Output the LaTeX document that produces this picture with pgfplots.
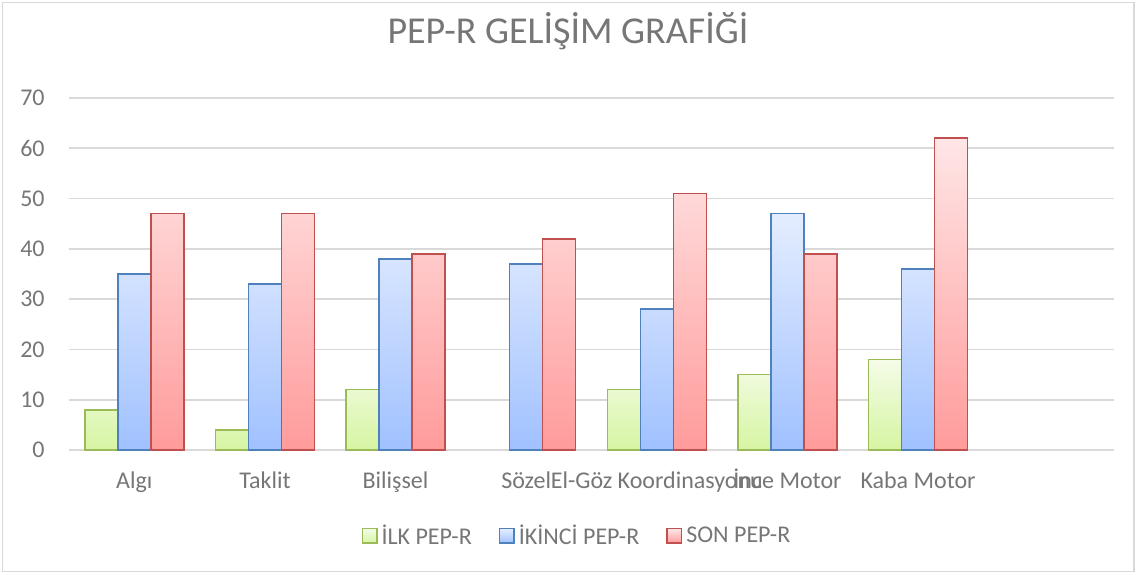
\documentclass[border=0pt]{standalone}
\usepackage{fontspec}
\setmainfont{Carlito}
\usepackage{pgfplots}
\usepackage{pgfplotstable}
\pgfplotsset{compat=1.18}
\definecolor{txt}{RGB}{118,118,118}
\definecolor{gridc}{RGB}{217,217,217}
\definecolor{grnb}{RGB}{155,187,89}
\definecolor{grnt}{RGB}{244,252,232}
\definecolor{grnd}{RGB}{214,245,162}
\definecolor{blub}{RGB}{79,129,189}
\definecolor{blut}{RGB}{228,237,255}
\definecolor{blud}{RGB}{160,193,255}
\definecolor{redb}{RGB}{192,80,77}
\definecolor{redt}{RGB}{255,230,230}
\definecolor{redd}{RGB}{255,155,155}

% x: category slot, values per test
\pgfplotstableread{
x ilk ikinci son
0 8   35 47
1 4   33 47
2 12  38 39
3 nan 37 42
4 12  28 51
5 15  47 39
6 18  36 62
}\pepdata

\begin{document}
\begin{tikzpicture}
\path[use as bounding box] (-34.5pt,-62pt) rectangle (534pt,225pt);
\draw[gridc, line width=0.8pt] (-33.2pt,-60.8pt) rectangle (532.6pt,223.8pt);
\begin{axis}[
  scale only axis, width=522.5pt, height=176pt,
  ybar=0pt, bar width=16.5pt,
  xmin=-0.5, xmax=7.5, ymin=0, ymax=70,
  ytick={0,10,...,70},
  xtick={0,...,6},
  xticklabels={Algı, Taklit, Bilişsel, Sözel, El-Göz Koordinasyonu, İnce Motor, Kaba Motor},
  axis line style={draw=none},
  major tick length=0pt,
  ymajorgrids, grid style={gridc, line width=0.8pt},
  /pgf/number format/assume math mode=true,
  tick label style={font=\fontsize{12}{14}\selectfont, text=txt},
  yticklabel style={inner sep=0pt, anchor=east, xshift=-12pt},
  xticklabel style={inner sep=0pt, anchor=base, yshift=-19pt},
  title={PEP-R GELİŞİM GRAFİĞİ},
  title style={at={(0.4775,1.122)}, anchor=base, inner sep=0pt, font=\fontsize{19}{22}\selectfont, text=txt},
  legend columns=3,
  legend style={at={(0.487,-0.244)}, anchor=center, draw=none, fill=none,
    font=\fontsize{12}{14}\selectfont, text=txt,
    /tikz/every even column/.append style={column sep=11.5pt}},
  legend image code/.code={\draw[#1, line width=0.8pt] (0pt,-3.6pt) rectangle (7.2pt,3.6pt);},
]
\addplot[draw=grnb, line width=0.8pt, top color=grnt, bottom color=grnd] table[x=x, y=ilk] {\pepdata};
\addplot[draw=blub, line width=0.8pt, top color=blut, bottom color=blud] table[x=x, y=ikinci] {\pepdata};
\addplot[draw=redb, line width=0.8pt, top color=redt, bottom color=redd] table[x=x, y=son] {\pepdata};
\legend{İLK PEP-R, İKİNCİ PEP-R, SON PEP-R}
\end{axis}
\end{tikzpicture}
\end{document}
